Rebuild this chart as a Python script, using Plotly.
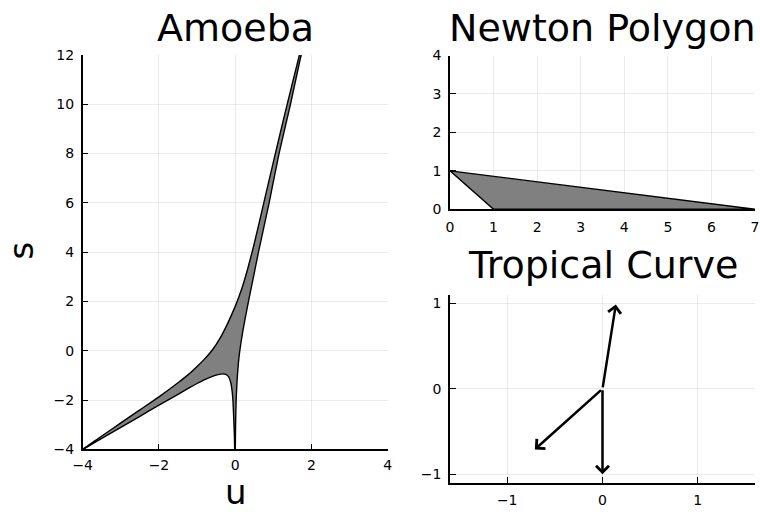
import plotly.graph_objects as go

# ---------------- data ----------------
# Amoeba outline: upper/left edge (from bottom-left to top)
upper_u = [-4.4, -4.0, -3.5, -3.0, -2.5, -2.0, -1.5, -1.2, -1.0, -0.8, -0.6, -0.4, -0.2, 0.0, 0.1, 0.2, 0.35, 0.5, 0.75, 1.0, 1.3, 1.7, 1.75]
upper_s = [-4.4, -4.0, -3.46, -2.93, -2.4, -1.87, -1.3, -0.93, -0.64, -0.33, 0.03, 0.5, 1.1, 1.8, 2.2, 2.65, 3.45, 4.35, 6.0, 7.65, 9.6, 12.1, 12.4]
# right edge of the upper tentacle (from top down to the spike)
right_u = [1.8, 1.73, 1.45, 1.15, 0.89, 0.61, 0.5, 0.4, 0.3, 0.2, 0.13, 0.09, 0.05, 0.025, 0.01, 0.003, 0.0]
right_s = [12.4, 12.0, 10.0, 8.0, 6.0, 4.0, 3.15, 2.4, 1.62, 0.8, 0.1, -0.4, -1.2, -2.0, -3.0, -4.0, -4.6]
# lower edge (from the spike back to the bottom-left)
lower_u = [-0.004, -0.02, -0.04, -0.06, -0.08, -0.12, -0.18, -0.25, -0.33, -0.45, -0.6, -0.8, -1.0, -1.2, -1.5, -2.0, -2.5, -3.0, -3.5, -4.0, -4.4]
lower_s = [-4.6, -3.5, -2.7, -2.0, -1.65, -1.27, -1.04, -0.96, -0.94, -0.97, -1.04, -1.17, -1.33, -1.5, -1.77, -2.21, -2.66, -3.11, -3.56, -4.02, -4.42]

# Newton polygon vertices
newton_x = [0, 1, 7, 0]
newton_y = [1, 0, 0, 1]

# Tropical curve: vertex and ray end points
vertex = (0.0, 0.0)
ray_x = [0.14, -0.71, 0.0]
ray_y = [0.99, -0.71, -1.0]

amoeba_xticks = [-4, -2, 0, 2, 4]
amoeba_yticks = [-4, -2, 0, 2, 4, 6, 8, 10, 12]
newton_xticks = [0, 1, 2, 3, 4, 5, 6, 7]
newton_yticks = [0, 1, 2, 3, 4]
trop_ticks = [-1, 0, 1]

# ---------------- figure ----------------
W, H = 760, 512
FONT = "DejaVu Sans"
GRID = "rgba(0,0,0,0.08)"

fig = go.Figure()

outline_u = upper_u + right_u + lower_u
outline_s = upper_s + right_s + lower_s
fig.add_trace(go.Scatter(x=outline_u, y=outline_s, mode="lines", fill="toself",
                         fillcolor="rgb(128,128,128)",
                         line=dict(color="black", width=1.4, shape="spline", smoothing=0.6),
                         xaxis="x", yaxis="y", showlegend=False, hoverinfo="skip"))

fig.add_trace(go.Scatter(x=newton_x, y=newton_y, mode="lines", fill="toself",
                         fillcolor="rgb(128,128,128)", line=dict(color="black", width=1.4),
                         xaxis="x2", yaxis="y2", showlegend=False, hoverinfo="skip"))

# invisible anchor trace so the third subplot exists
fig.add_trace(go.Scatter(x=[vertex[0]], y=[vertex[1]], mode="markers",
                         marker=dict(size=1, color="rgba(0,0,0,0)"),
                         xaxis="x3", yaxis="y3", showlegend=False, hoverinfo="skip"))

annotations = []
for ex, ey in zip(ray_x, ray_y):
    annotations.append(dict(x=ex, y=ey, ax=vertex[0], ay=vertex[1],
                            xref="x3", yref="y3", axref="x3", ayref="y3",
                            showarrow=True, arrowhead=4, arrowsize=1.0, arrowwidth=2.5,
                            arrowcolor="black", standoff=0, text=""))

def px_x(p):
    return p / W

def px_y(p):
    return (H - p) / H

def axis(domain, rng, ticks, anchor, layer="above traces", standoff=4):
    return dict(domain=domain, range=rng, tickvals=ticks, anchor=anchor,
                showline=True, linecolor="black", linewidth=1.5, mirror=False,
                ticks="inside", ticklen=6, tickwidth=1.2, tickcolor="black",
                showgrid=True, gridcolor=GRID, gridwidth=1, zeroline=False,
                tickfont=dict(family=FONT, size=14, color="black"),
                ticklabelstandoff=standoff, layer=layer, fixedrange=True, automargin=False)

fig.update_layout(
    width=W, height=H, margin=dict(l=0, r=0, t=0, b=0, pad=0, autoexpand=False),
    paper_bgcolor="white", plot_bgcolor="white",
    xaxis=axis([px_x(82.7), px_x(387.7)], [-4, 4], amoeba_xticks, "y", standoff=2),
    yaxis=axis([px_y(449.3), px_y(55.0)], [-4, 12], amoeba_yticks, "x"),
    xaxis2=axis([px_x(450), px_x(755)], [0, 7], newton_xticks, "y2", "below traces"),
    yaxis2=axis([px_y(209.3), px_y(55.5)], [0, 4], newton_yticks, "x2", "below traces"),
    xaxis3=axis([px_x(450), px_x(755)], [-1.6, 1.6], trop_ticks, "y3"),
    yaxis3=axis([px_y(482.7), px_y(295.0)], [-1.1, 1.1], trop_ticks, "x3"),
    showlegend=False,
)

title_font = dict(family=FONT, size=38, color="black")
label_font = dict(family=FONT, size=34, color="black")
annotations += [
    dict(text="Amoeba", x=px_x(235.5), y=px_y(28), xref="paper", yref="paper",
         showarrow=False, xanchor="center", yanchor="middle", font=title_font),
    dict(text="Newton Polygon", x=px_x(602.5), y=px_y(28), xref="paper", yref="paper",
         showarrow=False, xanchor="center", yanchor="middle", font=title_font),
    dict(text="Tropical Curve", x=px_x(603), y=px_y(265), xref="paper", yref="paper",
         showarrow=False, xanchor="center", yanchor="middle", font=title_font),
    dict(text="u", x=px_x(235.5), y=px_y(492.3), xref="paper", yref="paper",
         showarrow=False, xanchor="center", yanchor="middle", font=label_font),
    dict(text="s", x=px_x(20.5), y=px_y(251), xref="paper", yref="paper", textangle=-90,
         showarrow=False, xanchor="center", yanchor="middle", font=label_font),
]
fig.update_layout(annotations=annotations)

post = ("document.documentElement.style.margin='0';document.body.style.margin='0';"
        "document.body.style.overflow='hidden';document.documentElement.style.overflow='hidden';")
fig.write_html("out.html", post_script=post)
